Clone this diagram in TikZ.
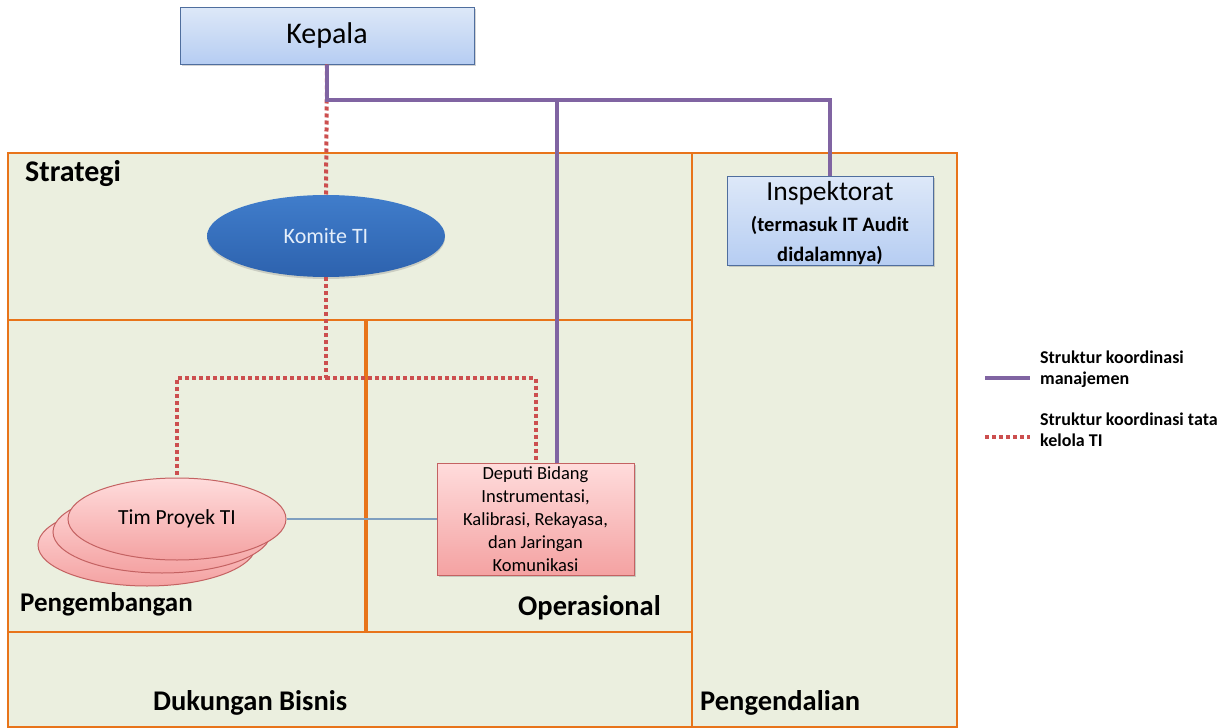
\documentclass[tikz,border=0pt]{standalone}
\usepackage{fontspec}
\setmainfont{Carlito}
\usetikzlibrary{shapes.geometric,shadows}
\definecolor{regfill}{HTML}{EBEFDF}
\definecolor{regline}{HTML}{E8741A}
\definecolor{mgmt}{HTML}{8064A2}
\definecolor{gov}{HTML}{CC4F4F}
\definecolor{bluetop}{HTML}{DDE8F8}
\definecolor{bluebot}{HTML}{B6CDF2}
\definecolor{blueline}{HTML}{4F6E9E}
\definecolor{pinktop}{HTML}{FFDCDC}
\definecolor{pinkbot}{HTML}{F4A2A2}
\definecolor{pinkline}{HTML}{C46262}
\definecolor{komtop}{HTML}{407DCB}
\definecolor{kombot}{HTML}{2D62AE}
\definecolor{komtext}{HTML}{E4EEFA}
\definecolor{linkblue}{HTML}{7F9FBF}
\begin{document}
\begin{tikzpicture}[x=1pt,y=-1pt,
  region/.style={draw=regline,line width=2.5pt},
  reglabel/.style={anchor=base west,inner sep=0pt,font=\fontsize{28.5}{32}\selectfont\bfseries},
  bluebox/.style={draw=blueline,line width=1pt,top color=bluetop,bottom color=bluebot,inner sep=0pt,
    drop shadow={shadow xshift=1.5pt,shadow yshift=-1.5pt,opacity=0.35}},
  pinkell/.style={ellipse,draw=pinkline,line width=1pt,top color=pinktop,bottom color=pinkbot,
    minimum width=218pt,minimum height=82pt,inner sep=0pt},
  pinkbox/.style={draw=pinkline,line width=1pt,top color=pinktop,bottom color=pinkbot,inner sep=0pt,
    drop shadow={shadow xshift=1.5pt,shadow yshift=-1.5pt,opacity=0.35}},
  mgmtline/.style={draw=mgmt,line width=4pt},
  govline/.style={draw=gov,line width=4pt,dash pattern=on 4pt off 3pt},
  linkline/.style={draw=linkblue,line width=2pt},
  legtext/.style={anchor=west,align=left,inner sep=0pt,font=\fontsize{18}{21}\selectfont\bfseries}
]
\useasboundingbox (0,0) rectangle (1224,728);
% regions
\fill[regfill] (8,153) rectangle (957,728);
\draw[region] (8,153) rectangle (692,320);
\draw[region] (8,320) rectangle (365,632);
\draw[region] (367,320) rectangle (692,632);
\draw[region] (8,632) rectangle (692,727);
\draw[region] (692,153) rectangle (957,727);
\node[reglabel,font=\fontsize{30}{32}\selectfont\bfseries] (lstrat) at (25,181) {Strategi};
\node[reglabel,font=\fontsize{27}{32}\selectfont\bfseries] (lpeng) at (20,611) {Pengembangan};
\node[reglabel] (lops) at (518,615) {Operasional};
\node[reglabel] (ldb) at (153,710) {Dukungan Bisnis};
\node[reglabel] (lpen) at (700,710) {Pengendalian};

% nodes
\node[bluebox,minimum width=294pt,minimum height=57pt,font=\fontsize{30}{34}\selectfont] (kepala) at (327,35.5) {Kepala};
\node[ellipse,draw=none,top color=komtop,bottom color=kombot,minimum width=238pt,minimum height=82pt,inner sep=0pt,
  text=komtext,font=\fontsize{22}{24}\selectfont,
  drop shadow={shadow xshift=0pt,shadow yshift=-2pt,opacity=0.3}] (komite) at (326,236) {Komite TI};
\node[bluebox,minimum width=206pt,minimum height=88pt,align=center,font=\fontsize{20.5}{30.5}\selectfont\bfseries] (insp) at (830,221)
  {{\mdseries\fontsize{27.5}{30.5}\selectfont\rule{0pt}{24pt}Inspektorat}\\(termasuk IT Audit\\didalamnya)};
\node[pinkell] (tim3) at (147,545) {};
\node[pinkell] (tim2) at (162,532) {};
\node[pinkell,font=\fontsize{21.5}{24}\selectfont] (tim) at (177,519) {Tim Proyek TI};
\node[pinkbox,minimum width=197pt,minimum height=112pt,align=center,font=\fontsize{18.5}{23}\selectfont] (deputi) at (535.5,519)
  {Deputi Bidang\\Instrumentasi,\\Kalibrasi, Rekayasa,\\dan Jaringan\\Komunikasi};

% connectors
\coordinate (govbus) at (326,378);
\coordinate (mbus) at (327,100);
\draw[govline] (kepala.south) -- (komite.north);
\draw[govline] (komite.south) -- (govbus) -| (tim.north);
\draw[govline] (govbus) -| (deputi.north);
\draw[mgmtline] (kepala.south) -- (mbus) -| (insp.north);
\draw[mgmtline] (mbus) -| ([xshift=21.5pt]deputi.north);
\draw[linkline] (tim.east) -- (deputi.west);

% legend
\coordinate (l1a) at (985,378);
\coordinate (l1b) at (1030,378);
\coordinate (l2a) at (985,437);
\coordinate (l2b) at (1030,437);
\draw[mgmtline] (l1a) -- (l1b);
\draw[govline] (l2a) -- (l2b);
\node[legtext] (leg1) at (1040,369) {Struktur koordinasi\\manajemen};
\node[legtext] (leg2) at (1040,430) {Struktur koordinasi tata\\kelola TI};
\end{tikzpicture}
\end{document}
